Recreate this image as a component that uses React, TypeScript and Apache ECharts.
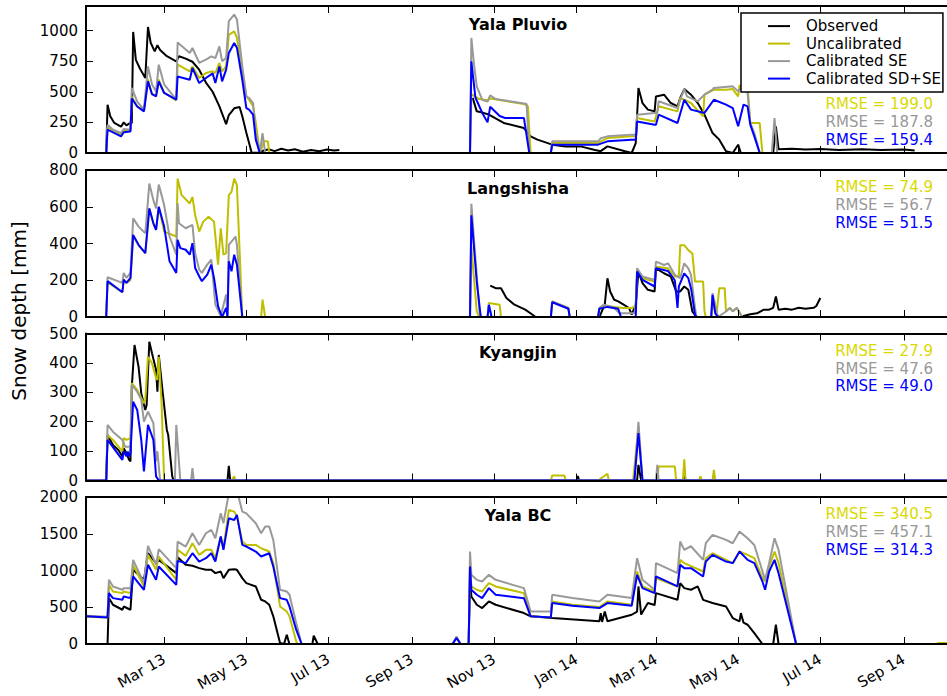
import React, { useEffect, useRef } from 'react';
import * as echarts from 'echarts';

type Pt = [string, number | null];

const SERIES_NAMES = ['Observed', 'Uncalibrated', 'Calibrated SE', 'Calibrated SD+SE'];
const LINE_COLORS = ['#000000', '#bfbf00', '#999999', '#0000ff'];
const RMSE_COLORS = ['#d9d900', '#999999', '#0000ff'];

const STATIONS = ['Yala Pluvio', 'Langshisha', 'Kyangjin', 'Yala BC'];
const Y_MAX = [1200, 800, 500, 2000];
const Y_TICKS = [
  [0, 250, 500, 750, 1000],
  [0, 200, 400, 600, 800],
  [0, 100, 200, 300, 400, 500],
  [0, 500, 1000, 1500, 2000],
];
// RMSE per station: Uncalibrated, Calibrated SE, Calibrated SD+SE
const RMSE = [
  [199.0, 187.8, 159.4],
  [74.9, 56.7, 51.5],
  [27.9, 47.6, 49.0],
  [340.5, 457.1, 314.3],
];

const X_START = '2013-01-02';
const X_END = '2014-10-03';
const X_TICKS = [
  '2013-03-01', '2013-05-01', '2013-07-01', '2013-09-01', '2013-11-01',
  '2014-01-01', '2014-03-01', '2014-05-01', '2014-07-01', '2014-09-01',
];

// ---------- Yala Pluvio ----------
const pluvioObserved: Pt[] = [
  ['2013-01-17', 0], ['2013-01-18', 394], ['2013-01-20', 300], ['2013-01-23', 245], ['2013-01-28', 215],
  ['2013-01-30', 250], ['2013-02-01', 225], ['2013-02-03', 240], ['2013-02-05', 245], ['2013-02-06', 988],
  ['2013-02-08', 760], ['2013-02-11', 690], ['2013-02-15', 612], ['2013-02-17', 1029], ['2013-02-19', 900],
  ['2013-02-22', 830], ['2013-02-24', 880], ['2013-02-26', 840], ['2013-03-03', 790], ['2013-03-10', 748],
  ['2013-03-12', 790], ['2013-03-17', 770], ['2013-03-22', 745], ['2013-03-27', 680], ['2013-04-01', 575],
  ['2013-04-06', 500], ['2013-04-11', 380], ['2013-04-16', 235], ['2013-04-18', 310], ['2013-04-22', 365],
  ['2013-04-26', 375], ['2013-04-28', 300], ['2013-05-01', 165], ['2013-05-05', 0], ['2013-05-10', 5],
  ['2013-05-14', 20], ['2013-05-18', 30], ['2013-05-22', 15], ['2013-05-27', 35], ['2013-06-01', 20],
  ['2013-06-06', 30], ['2013-06-12', 10], ['2013-06-18', 25], ['2013-06-24', 15], ['2013-06-30', 28],
  ['2013-07-05', 20], ['2013-07-09', 25], ['2013-07-10', null],
  ['2013-10-15', null], ['2013-10-16', 450], ['2013-10-19', 340], ['2013-10-23', 330], ['2013-10-28', 313],
  ['2013-11-08', 245], ['2013-11-23', 204], ['2013-11-28', 136], ['2013-12-03', 109], ['2013-12-14', 68],
  ['2013-12-24', 54], ['2014-01-04', 54], ['2014-01-14', 27], ['2014-01-19', 15], ['2014-01-24', 54],
  ['2014-02-06', 14], ['2014-02-11', 0], ['2014-02-14', 80], ['2014-02-16', 530], ['2014-02-19', 408],
  ['2014-02-23', 354], ['2014-02-28', 340], ['2014-03-01', 462], ['2014-03-07', 476], ['2014-03-12', 408],
  ['2014-03-17', 381], ['2014-03-19', 450], ['2014-03-22', 522], ['2014-03-27', 476], ['2014-04-01', 408],
  ['2014-04-06', 313], ['2014-04-12', 163], ['2014-04-17', 109], ['2014-04-22', 14], ['2014-04-27', 0],
  ['2014-05-01', 68], ['2014-05-03', 0], ['2014-05-27', 0], ['2014-05-29', 218], ['2014-05-31', 30],
  ['2014-06-10', 35], ['2014-06-20', 28], ['2014-07-01', 32], ['2014-07-15', 25], ['2014-08-01', 30],
  ['2014-08-15', 25], ['2014-09-01', 28], ['2014-09-09', 20], ['2014-09-10', null],
];
const pluvioUncal: Pt[] = [
  ['2013-01-02', 0], ['2013-01-17', 0], ['2013-01-18', 210], ['2013-01-28', 150], ['2013-01-30', 180],
  ['2013-02-04', 185], ['2013-02-05', 460], ['2013-02-09', 380], ['2013-02-14', 345], ['2013-02-17', 600],
  ['2013-02-20', 480], ['2013-02-23', 470], ['2013-02-25', 600], ['2013-03-01', 490], ['2013-03-10', 430],
  ['2013-03-11', 721], ['2013-03-20', 667], ['2013-03-22', 707], ['2013-03-27', 612], ['2013-04-01', 653],
  ['2013-04-06', 667], ['2013-04-08', 653], ['2013-04-11', 735], ['2013-04-13', 667], ['2013-04-16', 707],
  ['2013-04-18', 965], ['2013-04-22', 993], ['2013-04-24', 939], ['2013-04-28', 667], ['2013-05-01', 463],
  ['2013-05-03', 435], ['2013-05-06', 381], ['2013-05-08', 250], ['2013-05-11', 0], ['2013-05-13', 60],
  ['2013-05-14', 95], ['2013-05-17', 95], ['2013-05-18', 0], ['2013-10-14', 0], ['2013-10-15', 480],
  ['2013-10-21', 440], ['2013-10-27', 430], ['2013-10-29', 445], ['2013-11-23', 400], ['2013-11-26', 380],
  ['2013-11-28', 0], ['2013-12-13', 0], ['2013-12-14', 82], ['2014-01-17', 82], ['2014-01-24', 122],
  ['2014-02-11', 136], ['2014-02-14', 136], ['2014-02-15', 286], ['2014-02-28', 258], ['2014-03-03', 381],
  ['2014-03-17', 340], ['2014-03-19', 449], ['2014-03-27', 408], ['2014-04-05', 299], ['2014-04-06', 476],
  ['2014-04-13', 517], ['2014-04-22', 517], ['2014-04-27', 522], ['2014-05-01', 463], ['2014-05-02', 550],
  ['2014-05-08', 544], ['2014-05-10', 245], ['2014-05-17', 245], ['2014-05-19', 0], ['2014-10-03', 0],
];
const pluvioSE: Pt[] = [
  ['2013-01-02', 0], ['2013-01-17', 0], ['2013-01-18', 230], ['2013-01-22', 190], ['2013-01-28', 163],
  ['2013-01-30', 195], ['2013-02-04', 190], ['2013-02-05', 531], ['2013-02-09', 420], ['2013-02-14', 354],
  ['2013-02-17', 707], ['2013-02-20', 560], ['2013-02-23', 503], ['2013-02-25', 721], ['2013-03-01', 560],
  ['2013-03-10', 435], ['2013-03-11', 903], ['2013-03-20', 816], ['2013-03-22', 857], ['2013-03-27', 735],
  ['2013-04-01', 762], ['2013-04-05', 789], ['2013-04-08', 775], ['2013-04-11', 870], ['2013-04-13', 750],
  ['2013-04-16', 775], ['2013-04-18', 1077], ['2013-04-22', 1130], ['2013-04-24', 1090], ['2013-04-28', 707],
  ['2013-05-01', 463], ['2013-05-03', 449], ['2013-05-06', 408], ['2013-05-08', 163], ['2013-05-11', 0],
  ['2013-05-13', 163], ['2013-05-15', 0], ['2013-10-14', 0], ['2013-10-15', 939], ['2013-10-17', 720],
  ['2013-10-19', 544], ['2013-10-23', 435], ['2013-10-27', 420], ['2013-10-29', 471], ['2013-11-02', 440],
  ['2013-11-23', 405], ['2013-11-25', 400], ['2013-11-27', 0], ['2013-12-13', 0], ['2013-12-14', 95],
  ['2014-01-17', 95], ['2014-01-19', 120], ['2014-01-24', 136], ['2014-02-11', 150], ['2014-02-14', 150],
  ['2014-02-15', 313], ['2014-02-28', 327], ['2014-03-02', 327], ['2014-03-03', 422], ['2014-03-17', 367],
  ['2014-03-19', 435], ['2014-03-22', 522], ['2014-03-24', 463], ['2014-04-01', 422], ['2014-04-06', 476],
  ['2014-04-12', 517], ['2014-04-13', 531], ['2014-04-27', 544], ['2014-05-01', 503], ['2014-05-05', 558],
  ['2014-05-08', 490], ['2014-05-10', 245], ['2014-05-13', 163], ['2014-05-17', 0], ['2014-05-26', 0],
  ['2014-05-28', 286], ['2014-05-30', 0], ['2014-10-03', 0],
];
const pluvioSDSE: Pt[] = [
  ['2013-01-02', 0], ['2013-01-17', 0], ['2013-01-18', 190], ['2013-01-28', 136], ['2013-01-30', 170],
  ['2013-02-04', 175], ['2013-02-05', 445], ['2013-02-09', 380], ['2013-02-14', 340], ['2013-02-17', 585],
  ['2013-02-20', 480], ['2013-02-23', 463], ['2013-02-25', 585], ['2013-03-01', 490], ['2013-03-10', 435],
  ['2013-03-11', 625], ['2013-03-20', 598], ['2013-03-22', 694], ['2013-03-27', 571], ['2013-04-01', 612],
  ['2013-04-06', 650], ['2013-04-08', 571], ['2013-04-11', 707], ['2013-04-13', 585], ['2013-04-16', 680],
  ['2013-04-18', 816], ['2013-04-22', 898], ['2013-04-24', 860], ['2013-04-28', 598], ['2013-05-01', 367],
  ['2013-05-03', 354], ['2013-05-06', 313], ['2013-05-08', 109], ['2013-05-11', 0], ['2013-10-14', 0],
  ['2013-10-15', 748], ['2013-10-18', 453], ['2013-10-23', 329], ['2013-10-27', 250], ['2013-10-29', 378],
  ['2013-11-05', 302], ['2013-11-09', 286], ['2013-11-23', 286], ['2013-11-27', 0], ['2013-12-13', 0],
  ['2013-12-14', 68], ['2014-01-17', 68], ['2014-01-24', 95], ['2014-02-11', 109], ['2014-02-14', 109],
  ['2014-02-15', 258], ['2014-02-28', 231], ['2014-03-01', 231], ['2014-03-03', 313], ['2014-03-17', 245],
  ['2014-03-22', 435], ['2014-03-27', 354], ['2014-04-06', 327], ['2014-04-13', 435], ['2014-04-22', 395],
  ['2014-04-27', 367], ['2014-05-01', 218], ['2014-05-05', 395], ['2014-05-08', 381], ['2014-05-10', 231],
  ['2014-05-13', 136], ['2014-05-17', 0], ['2014-10-03', 0],
];

// ---------- Langshisha ----------
const langObserved: Pt[] = [
  ['2013-10-29', 171], ['2013-11-02', 157], ['2013-11-06', 157], ['2013-11-10', 103], ['2013-11-16', 67],
  ['2013-11-24', 40], ['2013-12-01', 4], ['2013-12-02', 0], ['2014-01-18', 0], ['2014-01-22', 67],
  ['2014-01-24', 211], ['2014-01-26', 139], ['2014-01-29', 94], ['2014-02-01', 85], ['2014-02-05', 67],
  ['2014-02-09', 49], ['2014-02-11', 13], ['2014-02-14', 67], ['2014-02-16', 247], ['2014-02-19', 184],
  ['2014-02-23', 148], ['2014-02-28', 139], ['2014-03-01', 265], ['2014-03-07', 238], ['2014-03-12', 220],
  ['2014-03-16', 139], ['2014-03-19', 139], ['2014-03-22', 166], ['2014-03-25', 148], ['2014-03-28', 31],
  ['2014-03-31', 0], ['2014-05-04', 0], ['2014-05-05', 5], ['2014-05-10', 15], ['2014-05-15', 20],
  ['2014-05-20', 40], ['2014-05-24', 40], ['2014-05-27', 50], ['2014-05-29', 112], ['2014-05-31', 40],
  ['2014-06-05', 45], ['2014-06-10', 40], ['2014-06-15', 50], ['2014-06-20', 45], ['2014-06-26', 50],
  ['2014-06-28', 60], ['2014-07-01', 103],
];
const langUncal: Pt[] = [
  ['2013-01-02', 0], ['2013-01-17', 0], ['2013-01-18', 190], ['2013-01-29', 135], ['2013-01-30', 200],
  ['2013-02-01', 185], ['2013-02-04', 200], ['2013-02-06', 440], ['2013-02-10', 390], ['2013-02-15', 348],
  ['2013-02-18', 591], ['2013-02-21', 510], ['2013-02-23', 474], ['2013-02-25', 600], ['2013-03-01', 465],
  ['2013-03-10', 438], ['2013-03-11', 753], ['2013-03-14', 663], ['2013-03-20', 618], ['2013-03-22', 654],
  ['2013-03-24', 555], ['2013-03-27', 465], ['2013-03-28', 483], ['2013-03-30', 519], ['2013-04-03', 546],
  ['2013-04-07', 519], ['2013-04-10', 285], ['2013-04-12', 483], ['2013-04-14', 339], ['2013-04-16', 348],
  ['2013-04-18', 663], ['2013-04-20', 681], ['2013-04-22', 753], ['2013-04-24', 717], ['2013-04-28', 0],
  ['2013-05-12', 0], ['2013-05-13', 95], ['2013-05-15', 0], ['2013-10-14', 0], ['2013-10-15', 380],
  ['2013-10-19', 31], ['2013-10-21', 0], ['2013-10-27', 0], ['2013-10-28', 76], ['2013-11-05', 67],
  ['2013-11-06', 0], ['2013-12-13', 0], ['2013-12-14', 85], ['2013-12-26', 50], ['2013-12-27', 0],
  ['2014-01-17', 0], ['2014-01-18', 45], ['2014-01-24', 60], ['2014-02-04', 49], ['2014-02-11', 49],
  ['2014-02-14', 60], ['2014-02-15', 256], ['2014-02-19', 211], ['2014-02-28', 193], ['2014-03-01', 274],
  ['2014-03-10', 265], ['2014-03-15', 220], ['2014-03-18', 220], ['2014-03-19', 391], ['2014-03-22', 391],
  ['2014-03-25', 364], ['2014-03-28', 346], ['2014-03-30', 193], ['2014-04-05', 193], ['2014-04-06', 31],
  ['2014-04-07', 0], ['2014-04-11', 0], ['2014-04-13', 100], ['2014-04-15', 20], ['2014-04-17', 157],
  ['2014-04-21', 157], ['2014-04-22', 31], ['2014-04-25', 49], ['2014-04-27', 31], ['2014-04-30', 49],
  ['2014-05-04', 0], ['2014-10-03', 0],
];
const langSE: Pt[] = [
  ['2013-01-02', 0], ['2013-01-17', 0], ['2013-01-18', 216], ['2013-01-29', 186], ['2013-01-30', 240],
  ['2013-02-01', 213], ['2013-02-04', 240], ['2013-02-06', 537], ['2013-02-10', 492], ['2013-02-15', 456],
  ['2013-02-18', 726], ['2013-02-21', 636], ['2013-02-23', 591], ['2013-02-25', 721], ['2013-03-01', 609],
  ['2013-03-05', 438], ['2013-03-10', 339], ['2013-03-11', 618], ['2013-03-12', 510], ['2013-03-17', 483],
  ['2013-03-22', 501], ['2013-03-24', 348], ['2013-03-27', 258], ['2013-03-29', 240], ['2013-04-02', 285],
  ['2013-04-05', 312], ['2013-04-06', 231], ['2013-04-08', 68], ['2013-04-12', 5], ['2013-04-16', 123],
  ['2013-04-17', 10], ['2013-04-18', 393], ['2013-04-23', 438], ['2013-04-24', 393], ['2013-04-28', 0],
  ['2013-10-14', 0], ['2013-10-15', 616], ['2013-10-18', 319], ['2013-10-21', 31], ['2013-10-22', 0],
  ['2013-10-27', 0], ['2013-10-28', 70], ['2013-10-30', 0], ['2013-12-13', 0], ['2013-12-14', 85],
  ['2013-12-26', 50], ['2013-12-27', 0], ['2014-01-17', 0], ['2014-01-18', 49], ['2014-01-21', 67],
  ['2014-01-25', 60], ['2014-01-29', 49], ['2014-02-02', 20], ['2014-02-13', 20], ['2014-02-14', 60],
  ['2014-02-15', 265], ['2014-02-19', 220], ['2014-02-28', 202], ['2014-03-01', 301], ['2014-03-07', 283],
  ['2014-03-10', 292], ['2014-03-15', 230], ['2014-03-17', 220], ['2014-03-19', 211], ['2014-03-22', 292],
  ['2014-03-25', 265], ['2014-03-27', 229], ['2014-03-30', 49], ['2014-03-31', 0], ['2014-04-11', 0],
  ['2014-04-12', 130], ['2014-04-14', 60], ['2014-04-16', 0], ['2014-04-22', 30], ['2014-04-25', 50],
  ['2014-04-27', 30], ['2014-04-30', 50], ['2014-05-04', 0], ['2014-10-03', 0],
];
const langSDSE: Pt[] = [
  ['2013-01-02', 0], ['2013-01-17', 0], ['2013-01-18', 195], ['2013-01-29', 135], ['2013-01-30', 204],
  ['2013-02-01', 186], ['2013-02-04', 213], ['2013-02-06', 447], ['2013-02-10', 393], ['2013-02-15', 348],
  ['2013-02-18', 591], ['2013-02-21', 510], ['2013-02-23', 474], ['2013-02-25', 600], ['2013-03-01', 492],
  ['2013-03-05', 303], ['2013-03-10', 240], ['2013-03-11', 420], ['2013-03-13', 375], ['2013-03-17', 366],
  ['2013-03-20', 339], ['2013-03-22', 402], ['2013-03-24', 267], ['2013-03-27', 222], ['2013-03-29', 195],
  ['2013-04-02', 231], ['2013-04-05', 285], ['2013-04-07', 213], ['2013-04-10', 59], ['2013-04-13', 0],
  ['2013-04-16', 50], ['2013-04-17', 0], ['2013-04-18', 303], ['2013-04-20', 249], ['2013-04-22', 339],
  ['2013-04-24', 285], ['2013-04-28', 0], ['2013-10-14', 0], ['2013-10-15', 553], ['2013-10-19', 193],
  ['2013-10-22', 0], ['2013-10-27', 0], ['2013-10-28', 65], ['2013-10-30', 0], ['2013-12-13', 0],
  ['2013-12-14', 80], ['2013-12-26', 45], ['2013-12-27', 0], ['2014-01-17', 0], ['2014-01-18', 45],
  ['2014-01-24', 55], ['2014-02-01', 45], ['2014-02-03', 0], ['2014-02-14', 0], ['2014-02-15', 247],
  ['2014-02-19', 202], ['2014-02-28', 166], ['2014-03-01', 265], ['2014-03-10', 250], ['2014-03-15', 200],
  ['2014-03-17', 49], ['2014-03-18', 166], ['2014-03-22', 238], ['2014-03-25', 211], ['2014-03-27', 157],
  ['2014-03-30', 13], ['2014-03-31', 0], ['2014-04-11', 0], ['2014-04-12', 120], ['2014-04-14', 20],
  ['2014-04-16', 0], ['2014-10-03', 0],
];

// ---------- Kyangjin ----------
const kyangObserved: Pt[] = [
  ['2013-01-17', 0], ['2013-01-18', 155], ['2013-01-22', 121], ['2013-01-26', 104], ['2013-01-29', 82],
  ['2013-01-30', 110], ['2013-02-01', 93], ['2013-02-03', 70], ['2013-02-04', 65], ['2013-02-05', 319],
  ['2013-02-07', 461], ['2013-02-10', 387], ['2013-02-12', 297], ['2013-02-15', 240], ['2013-02-16', 257],
  ['2013-02-18', 472], ['2013-02-20', 433], ['2013-02-23', 376], ['2013-02-24', 302], ['2013-02-25', 427],
  ['2013-02-28', 297], ['2013-03-03', 172], ['2013-03-04', 155], ['2013-03-07', 14], ['2013-03-08', 0],
  ['2013-04-17', 0], ['2013-04-18', 50], ['2013-04-19', 0], ['2014-01-01', 0], ['2014-01-02', 15],
  ['2014-01-03', 0], ['2014-02-15', 0], ['2014-02-16', 53], ['2014-02-18', 0], ['2014-03-21', 0],
  ['2014-03-22', 15], ['2014-03-23', 0], ['2014-10-03', 0],
];
const kyangUncal: Pt[] = [
  ['2013-01-02', 0], ['2013-01-17', 0], ['2013-01-18', 155], ['2013-01-22', 138], ['2013-01-29', 99],
  ['2013-01-30', 144], ['2013-02-01', 138], ['2013-02-04', 144], ['2013-02-05', 331], ['2013-02-09', 308],
  ['2013-02-14', 263], ['2013-02-15', 274], ['2013-02-17', 421], ['2013-02-20', 399], ['2013-02-23', 348],
  ['2013-02-24', 342], ['2013-02-25', 421], ['2013-02-27', 274], ['2013-03-01', 0], ['2013-04-20', 0],
  ['2013-04-22', 14], ['2013-04-23', 0], ['2013-12-13', 0], ['2013-12-14', 17], ['2013-12-23', 17],
  ['2013-12-24', 0], ['2014-01-17', 0], ['2014-01-24', 23], ['2014-01-25', 0], ['2014-02-12', 0],
  ['2014-02-16', 183], ['2014-02-19', 0], ['2014-03-02', 0], ['2014-03-03', 48], ['2014-03-15', 48],
  ['2014-03-16', 0], ['2014-03-21', 0], ['2014-03-22', 72], ['2014-03-23', 0], ['2014-04-02', 0],
  ['2014-04-03', 14], ['2014-04-04', 0], ['2014-04-12', 0], ['2014-04-13', 36], ['2014-04-14', 0],
  ['2014-10-03', 0],
];
const kyangSE: Pt[] = [
  ['2013-01-02', 0], ['2013-01-17', 0], ['2013-01-18', 189], ['2013-01-22', 166], ['2013-01-29', 138],
  ['2013-01-31', 115], ['2013-02-04', 115], ['2013-02-05', 325], ['2013-02-09', 302], ['2013-02-12', 275],
  ['2013-02-14', 200], ['2013-02-17', 234], ['2013-02-21', 195], ['2013-02-23', 65], ['2013-02-24', 99],
  ['2013-02-26', 0], ['2013-03-09', 0], ['2013-03-10', 189], ['2013-03-13', 0], ['2013-03-21', 0],
  ['2013-03-22', 42], ['2013-03-23', 0], ['2014-02-13', 0], ['2014-02-16', 200], ['2014-02-19', 0],
  ['2014-03-01', 0], ['2014-03-02', 53], ['2014-03-03', 0], ['2014-10-03', 0],
];
const kyangSDSE: Pt[] = [
  ['2013-01-02', 0], ['2013-01-17', 0], ['2013-01-18', 138], ['2013-01-29', 70], ['2013-01-30', 99],
  ['2013-02-01', 82], ['2013-02-02', 99], ['2013-02-03', 82], ['2013-02-04', 93], ['2013-02-06', 268],
  ['2013-02-09', 240], ['2013-02-12', 138], ['2013-02-14', 31], ['2013-02-17', 189], ['2013-02-21', 138],
  ['2013-02-23', 14], ['2013-02-25', 0], ['2014-02-13', 0], ['2014-02-16', 161], ['2014-02-19', 0],
  ['2014-10-03', 0],
];

// ---------- Yala BC ----------
const bcObserved: Pt[] = [
  ['2013-01-02', 0], ['2013-01-18', 0], ['2013-01-19', 624], ['2013-01-22', 534], ['2013-01-29', 466],
  ['2013-01-30', 510], ['2013-02-04', 466], ['2013-02-06', 1009], ['2013-02-14', 873], ['2013-02-17', 1235],
  ['2013-02-23', 1100], ['2013-02-25', 1145], ['2013-03-10', 964], ['2013-03-11', 1181], ['2013-03-17', 1077],
  ['2013-03-22', 1064], ['2013-03-27', 1032], ['2013-04-01', 1009], ['2013-04-05', 1009], ['2013-04-08', 964],
  ['2013-04-12', 986], ['2013-04-14', 896], ['2013-04-18', 1009], ['2013-04-22', 1018], ['2013-04-24', 1009],
  ['2013-04-28', 896], ['2013-05-01', 828], ['2013-05-08', 783], ['2013-05-12', 602], ['2013-05-15', 579],
  ['2013-05-18', 534], ['2013-05-21', 376], ['2013-05-26', 14], ['2013-05-29', 0], ['2013-05-31', 127],
  ['2013-06-02', 0], ['2013-06-19', 0], ['2013-06-20', 113], ['2013-06-23', 0], ['2013-10-13', 0],
  ['2013-10-14', 900], ['2013-10-15', 647], ['2013-10-19', 534], ['2013-10-23', 489], ['2013-10-28', 579],
  ['2013-11-02', 534], ['2013-11-23', 421], ['2013-11-28', 376], ['2013-12-14', 353], ['2014-01-18', 308],
  ['2014-01-19', 421], ['2014-01-20', 300], ['2014-01-22', 443], ['2014-01-24', 310], ['2014-02-11', 398],
  ['2014-02-15', 440], ['2014-02-16', 783], ['2014-02-18', 400], ['2014-02-23', 557], ['2014-02-28', 530],
  ['2014-03-01', 692], ['2014-03-17', 602], ['2014-03-19', 828], ['2014-03-22', 760], ['2014-03-27', 738],
  ['2014-04-01', 783], ['2014-04-05', 600], ['2014-04-12', 557], ['2014-04-22', 511], ['2014-04-27', 353],
  ['2014-05-02', 308], ['2014-05-03', 420], ['2014-05-05', 290], ['2014-05-08', 262], ['2014-05-13', 149],
  ['2014-05-19', 0], ['2014-05-27', 0], ['2014-05-29', 262], ['2014-05-31', 0], ['2014-10-03', 0],
];
const bcUncal: Pt[] = [
  ['2013-01-02', 370], ['2013-01-18', 362], ['2013-01-19', 805], ['2013-01-22', 715], ['2013-01-29', 692],
  ['2013-01-30', 715], ['2013-02-04', 692], ['2013-02-06', 1077], ['2013-02-14', 783], ['2013-02-17', 1213],
  ['2013-02-23', 1009], ['2013-02-25', 1190], ['2013-03-10', 873], ['2013-03-11', 1281], ['2013-03-17', 1199],
  ['2013-03-22', 1371], ['2013-03-27', 1213], ['2013-04-01', 1281], ['2013-04-05', 1281], ['2013-04-08', 1167],
  ['2013-04-12', 1462], ['2013-04-14', 1303], ['2013-04-18', 1824], ['2013-04-22', 1801], ['2013-04-24', 1733],
  ['2013-04-28', 1394], ['2013-05-01', 1348], ['2013-05-08', 1348], ['2013-05-12', 1303], ['2013-05-18', 1258],
  ['2013-05-21', 1100], ['2013-05-26', 511], ['2013-05-31', 443], ['2013-06-02', 376], ['2013-06-07', 36],
  ['2013-06-08', 0], ['2013-10-13', 0], ['2013-10-14', 1054], ['2013-10-15', 783], ['2013-10-19', 738],
  ['2013-10-23', 715], ['2013-10-28', 828], ['2013-11-02', 783], ['2013-11-23', 692], ['2013-11-28', 376],
  ['2013-12-13', 362], ['2013-12-14', 579], ['2013-12-29', 534], ['2014-01-18', 502], ['2014-01-24', 579],
  ['2014-02-11', 534], ['2014-02-15', 986], ['2014-02-19', 783], ['2014-02-28', 715], ['2014-03-01', 896],
  ['2014-03-17', 783], ['2014-03-19', 1145], ['2014-03-22', 1100], ['2014-04-05', 986], ['2014-04-07', 1167],
  ['2014-04-12', 1235], ['2014-04-22', 1145], ['2014-04-27', 1100], ['2014-05-02', 1258], ['2014-05-08', 1213],
  ['2014-05-13', 1167], ['2014-05-19', 896], ['2014-05-21', 851], ['2014-05-24', 1054], ['2014-05-28', 1258],
  ['2014-05-31', 1100], ['2014-06-13', 0], ['2014-09-25', 0], ['2014-09-27', 14], ['2014-10-03', 14],
];
const bcSE: Pt[] = [
  ['2013-01-02', 385], ['2013-01-18', 370], ['2013-01-19', 873], ['2013-01-22', 783], ['2013-01-29', 738],
  ['2013-01-30', 760], ['2013-02-04', 760], ['2013-02-06', 1145], ['2013-02-14', 828], ['2013-02-17', 1335],
  ['2013-02-23', 1077], ['2013-02-25', 1290], ['2013-03-10', 1032], ['2013-03-11', 1394], ['2013-03-17', 1326],
  ['2013-03-22', 1507], ['2013-03-27', 1348], ['2013-04-01', 1507], ['2013-04-05', 1552], ['2013-04-08', 1439],
  ['2013-04-12', 1778], ['2013-04-14', 1643], ['2013-04-18', 2050], ['2013-04-22', 2030], ['2013-04-24', 2090],
  ['2013-04-28', 1801], ['2013-05-01', 1778], ['2013-05-08', 1643], ['2013-05-12', 1507], ['2013-05-15', 1597],
  ['2013-05-18', 1597], ['2013-05-21', 1416], ['2013-05-26', 738], ['2013-05-31', 715], ['2013-06-02', 670],
  ['2013-06-07', 285], ['2013-06-11', 0], ['2013-10-01', 0], ['2013-10-04', 104], ['2013-10-07', 0],
  ['2013-10-13', 0], ['2013-10-14', 1258], ['2013-10-15', 941], ['2013-10-19', 873], ['2013-10-23', 851],
  ['2013-10-28', 941], ['2013-11-02', 873], ['2013-11-23', 760], ['2013-11-28', 443], ['2013-12-13', 443],
  ['2013-12-14', 670], ['2013-12-29', 625], ['2014-01-18', 579], ['2014-01-24', 670], ['2014-02-11', 625],
  ['2014-02-15', 1167], ['2014-02-19', 873], ['2014-02-28', 738], ['2014-03-01', 1100], ['2014-03-17', 964],
  ['2014-03-19', 1394], ['2014-03-22', 1281], ['2014-03-27', 1330], ['2014-04-05', 1145], ['2014-04-07', 1371],
  ['2014-04-12', 1484], ['2014-04-22', 1416], ['2014-04-27', 1371], ['2014-05-02', 1529], ['2014-05-08', 1439],
  ['2014-05-13', 1348], ['2014-05-21', 873], ['2014-05-24', 1100], ['2014-05-28', 1439], ['2014-05-31', 1281],
  ['2014-06-13', 0], ['2014-10-03', 0],
];
const bcSDSE: Pt[] = [
  ['2013-01-02', 376], ['2013-01-18', 362], ['2013-01-19', 692], ['2013-01-22', 624], ['2013-01-29', 602],
  ['2013-01-30', 647], ['2013-02-04', 624], ['2013-02-06', 919], ['2013-02-14', 738], ['2013-02-17', 1077],
  ['2013-02-23', 873], ['2013-02-25', 1054], ['2013-03-10', 805], ['2013-03-11', 1131], ['2013-03-17', 1100],
  ['2013-03-22', 1235], ['2013-03-27', 1122], ['2013-04-01', 1167], ['2013-04-05', 1235], ['2013-04-08', 1122],
  ['2013-04-12', 1462], ['2013-04-14', 1281], ['2013-04-18', 1710], ['2013-04-22', 1688], ['2013-04-24', 1756],
  ['2013-04-28', 1348], ['2013-05-01', 1326], ['2013-05-08', 1258], ['2013-05-12', 1190], ['2013-05-18', 1235],
  ['2013-05-21', 1054], ['2013-05-26', 624], ['2013-05-31', 602], ['2013-06-02', 511], ['2013-06-07', 195],
  ['2013-06-11', 0], ['2013-10-01', 0], ['2013-10-04', 80], ['2013-10-07', 0], ['2013-10-13', 0],
  ['2013-10-14', 1054], ['2013-10-15', 738], ['2013-10-19', 670], ['2013-10-23', 624], ['2013-10-28', 760],
  ['2013-11-02', 670], ['2013-11-23', 624], ['2013-11-28', 376], ['2013-12-13', 362], ['2013-12-14', 557],
  ['2013-12-29', 520], ['2014-01-18', 489], ['2014-01-24', 557], ['2014-02-11', 520], ['2014-02-15', 941],
  ['2014-02-19', 760], ['2014-02-28', 692], ['2014-03-01', 919], ['2014-03-17', 783], ['2014-03-19', 1077],
  ['2014-03-22', 1032], ['2014-03-27', 1032], ['2014-04-05', 919], ['2014-04-07', 1122], ['2014-04-12', 1213],
  ['2014-04-22', 1122], ['2014-04-27', 1100], ['2014-05-02', 1258], ['2014-05-08', 1145], ['2014-05-13', 1100],
  ['2014-05-19', 851], ['2014-05-21', 738], ['2014-05-24', 986], ['2014-05-28', 1145], ['2014-05-31', 964],
  ['2014-06-13', 0], ['2014-10-03', 0],
];

const PANEL_SERIES: Pt[][][] = [
  [pluvioObserved, pluvioUncal, pluvioSE, pluvioSDSE],
  [langObserved, langUncal, langSE, langSDSE],
  [kyangObserved, kyangUncal, kyangSE, kyangSDSE],
  [bcObserved, bcUncal, bcSE, bcSDSE],
];

const MONTHS = ['Jan', 'Feb', 'Mar', 'Apr', 'May', 'Jun', 'Jul', 'Aug', 'Sep', 'Oct', 'Nov', 'Dec'];
const FONT = '"DejaVu Sans", "Liberation Sans", sans-serif';

const toTs = (s: string) => {
  const [y, m, d] = s.split('-').map(Number);
  return Date.UTC(y, m - 1, d);
};
const monthLabel = (v: number) => {
  const d = new Date(v);
  return `${MONTHS[d.getUTCMonth()]} ${String(d.getUTCFullYear()).slice(2)}`;
};

// panel geometry (px)
const PLOT_LEFT = 86;
const PLOT_WIDTH = 863;
const PANEL_TOPS = [6, 170, 333.5, 497];
const PANEL_HEIGHT = 147;

function buildOption(): echarts.EChartsOption {
  const xTicks = X_TICKS.map(toTs);
  const xMin = toTs(X_START);
  const xMax = toTs(X_END);
  const spine = { color: '#000', width: 2 };

  const grid: any[] = [];
  const xAxis: any[] = [];
  const yAxis: any[] = [];
  const series: any[] = [];
  const graphic: any[] = [];

  PANEL_TOPS.forEach((top, i) => {
    grid.push({ left: PLOT_LEFT, width: PLOT_WIDTH, top, height: PANEL_HEIGHT, containLabel: false });
    const base = {
      type: 'value', gridIndex: i, min: xMin, max: xMax, z: 10,
      splitLine: { show: false },
      axisLine: { show: true, onZero: false, lineStyle: spine },
      axisTick: { show: true, inside: true, length: 7, customValues: xTicks, lineStyle: { color: '#000', width: 1 } },
    };
    xAxis.push({
      ...base, position: 'bottom',
      axisLabel: {
        show: i === 3, customValues: xTicks, formatter: monthLabel, rotate: 30, margin: 14,
        fontSize: 15, color: '#000', fontFamily: FONT,
      },
    });
    xAxis.push({ ...base, position: 'top', axisLabel: { show: false } });
    yAxis.push({
      type: 'value', gridIndex: i, min: 0, max: Y_MAX[i], z: 10,
      splitLine: { show: false },
      axisLine: { show: true, onZero: false, lineStyle: spine },
      axisTick: { show: true, inside: true, length: 7, customValues: Y_TICKS[i], lineStyle: { color: '#000', width: 1 } },
      axisLabel: {
        customValues: Y_TICKS[i], formatter: (v: number) => String(v),
        fontSize: 15, color: '#000', fontFamily: FONT, margin: 8,
      },
    });

    PANEL_SERIES[i].forEach((pts, k) => {
      series.push({
        type: 'line',
        name: SERIES_NAMES[k],
        xAxisIndex: i * 2,
        yAxisIndex: i,
        data: pts.map(([d, v]) => [toTs(d), v === null ? '-' : v]),
        showSymbol: false,
        symbol: 'none',
        connectNulls: false,
        clip: true,
        lineStyle: { color: LINE_COLORS[k], width: 2 },
        itemStyle: { color: LINE_COLORS[k] },
        emphasis: { disabled: true },
      });
    });

    graphic.push({
      type: 'text', x: 518, y: top + 18.5,
      style: {
        text: STATIONS[i], fill: '#000', font: `bold 16px ${FONT}`,
        align: 'center', verticalAlign: 'middle', textAlign: 'center', textVerticalAlign: 'middle',
      },
    });
    const rmseTop = i === 0 ? 104.3 : top + 17.3;
    RMSE[i].forEach((r, k) => {
      graphic.push({
        type: 'text', x: 933, y: rmseTop + k * 17.8,
        style: {
          text: `RMSE = ${r.toFixed(1)}`, fill: RMSE_COLORS[k], font: `15px ${FONT}`,
          align: 'right', verticalAlign: 'middle', textAlign: 'right', textVerticalAlign: 'middle',
        },
      });
    });
  });

  graphic.push({
    type: 'text', x: 19, y: 311, rotation: Math.PI / 2,
    style: {
      text: 'Snow depth [mm]', fill: '#000', font: `20px ${FONT}`,
      align: 'center', verticalAlign: 'middle', textAlign: 'center', textVerticalAlign: 'middle',
    },
  });

  return {
    animation: false,
    backgroundColor: '#fff',
    grid,
    xAxis,
    yAxis,
    series,
    graphic,
    legend: {
      data: SERIES_NAMES,
      orient: 'vertical',
      left: 741,
      top: 13,
      icon: 'rect',
      itemWidth: 22,
      itemHeight: 2,
      itemGap: 0.5,
      selectedMode: false,
      backgroundColor: '#fff',
      borderColor: '#000',
      borderWidth: 1.5,
      borderRadius: 0,
      padding: [4.6, 2, 5, 27],
      textStyle: { fontSize: 15, color: '#000', fontFamily: FONT, lineHeight: 17, padding: [0, 0, 0, 11] },
      z: 20,
    },
  };
}

export default function App() {
  const ref = useRef<HTMLDivElement>(null);
  useEffect(() => {
    document.body.style.margin = '0';
    const chart = echarts.init(ref.current as HTMLDivElement, null, { renderer: 'svg' });
    chart.setOption(buildOption());
    return () => chart.dispose();
  }, []);
  return <div ref={ref} style={{ width: 947, height: 696 }} />;
}
